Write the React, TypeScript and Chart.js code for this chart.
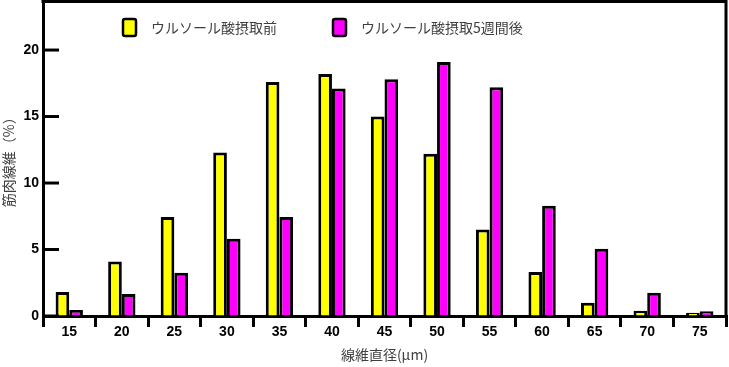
import React, { useEffect, useRef } from "react";
import { Chart, registerables } from "chart.js";

Chart.register(...registerables);

const categories = ["15", "20", "25", "30", "35", "40", "45", "50", "55", "60", "65", "70", "75"];
const beforeValues = [1.8, 4.1, 7.45, 12.3, 17.6, 18.2, 15.0, 12.2, 6.5, 3.3, 1.0, 0.4, 0.25];
const afterValues = [0.45, 1.65, 3.25, 5.8, 7.45, 17.1, 17.8, 19.1, 17.2, 8.3, 5.05, 1.75, 0.35];
const seriesLabels = ["ウルソール酸摂取前", "ウルソール酸摂取5週間後"];
const yTickValues = [0, 5, 10, 15, 20];
const xTitle = "線維直径(μm)";
const yTitle = "筋肉線維（%）";

const numFont = "'Liberation Sans', Arial, sans-serif";
const jpFont = "'Noto Sans CJK JP', sans-serif";

const framePlugin = {
  id: "frame",
  afterDraw(chart: any) {
    const { ctx, chartArea } = chart;
    const y = chart.scales.y;
    ctx.save();
    ctx.strokeStyle = "#000";
    ctx.lineWidth = 3;
    // inward y tick marks
    yTickValues.forEach((v) => {
      const py = y.getPixelForValue(v);
      ctx.beginPath();
      ctx.moveTo(chartArea.left, py);
      ctx.lineTo(chartArea.left + 16, py);
      ctx.stroke();
    });
    // top & right frame
    ctx.beginPath();
    ctx.moveTo(chartArea.left - 1.5, chartArea.top);
    ctx.lineTo(chartArea.right, chartArea.top);
    ctx.lineTo(chartArea.right, chartArea.bottom + 1.5);
    ctx.stroke();

    // legend
    const ds = chart.data.datasets;
    const items = [
      { x: chartArea.left + 80, i: 0 },
      { x: chartArea.left + 290, i: 1 },
    ];
    ctx.font = `14px ${jpFont}`;
    ctx.textBaseline = "middle";
    ctx.textAlign = "left";
    items.forEach(({ x, i }) => {
      const bx = x;
      const by = chartArea.top + 17.5;
      ctx.beginPath();
      if (ctx.roundRect) ctx.roundRect(bx, by, 13, 17, 2);
      else ctx.rect(bx, by, 13, 17);
      ctx.fillStyle = ds[i].backgroundColor;
      ctx.fill();
      ctx.lineWidth = 2.5;
      ctx.strokeStyle = "#000";
      ctx.stroke();
      ctx.fillStyle = "#404040";
      ctx.fillText(ds[i].label, bx + 28, by + 9);
    });
    ctx.restore();
  },
};

export default function App() {
  const ref = useRef<HTMLCanvasElement>(null);
  useEffect(() => {
    document.body.style.margin = "0";
    const chart = new Chart(ref.current!, {
      type: "bar",
      data: {
        labels: categories,
        datasets: [
          {
            label: seriesLabels[0],
            data: beforeValues,
            backgroundColor: "#FFFF00",
            borderColor: "#000",
            borderWidth: 3,
          },
          {
            label: seriesLabels[1],
            data: afterValues,
            backgroundColor: "#FF00FF",
            borderColor: "#000",
            borderWidth: 3,
          },
        ],
      },
      options: {
        animation: false,
        responsive: false,
        devicePixelRatio: 1,
        layout: { padding: { left: 0, top: 1.5, right: 3, bottom: 0 } },
        datasets: { bar: { categoryPercentage: 0.52, barPercentage: 1 } },
        plugins: { legend: { display: false }, tooltip: { enabled: false } },
        scales: {
          x: {
            type: "category",
            offset: true,
            grid: {
              offset: true,
              drawOnChartArea: false,
              drawTicks: true,
              tickLength: 11,
              lineWidth: 3,
              color: "#000",
            },
            border: { display: true, width: 3, color: "#000" },
            ticks: {
              font: { family: numFont, size: 14, weight: "bold" },
              color: "#000",
              padding: -3,
              maxRotation: 0,
            },
            title: {
              display: true,
              text: xTitle,
              font: { family: jpFont, size: 14 },
              color: "#404040",
              padding: { top: 0, bottom: 4 },
            },
            afterFit: (s: any) => {
              s.height = 51;
              s.paddingLeft = 0;
              s.paddingRight = 0;
            },
          },
          y: {
            min: 0,
            max: 23.65,
            grid: { drawOnChartArea: false, drawTicks: false },
            border: { display: true, width: 3, color: "#000" },
            ticks: {
              stepSize: 5,
              font: { family: numFont, size: 14, weight: "bold" },
              color: "#000",
              padding: 4,
            },
            afterBuildTicks: (s: any) => {
              s.ticks = yTickValues.map((v) => ({ value: v }));
            },
            title: {
              display: true,
              text: yTitle,
              font: { family: jpFont, size: 14 },
              color: "#404040",
              padding: 0,
            },
            afterFit: (s: any) => {
              s.width = 43;
              s.paddingTop = 0;
              s.paddingBottom = 0;
            },
          },
        },
      },
      plugins: [framePlugin],
    } as any);
    return () => chart.destroy();
  }, []);
  return (
    <div style={{ position: "absolute", left: 0, top: 0, width: 729, height: 367 }}>
      <canvas ref={ref} width={729} height={367} />
    </div>
  );
}
